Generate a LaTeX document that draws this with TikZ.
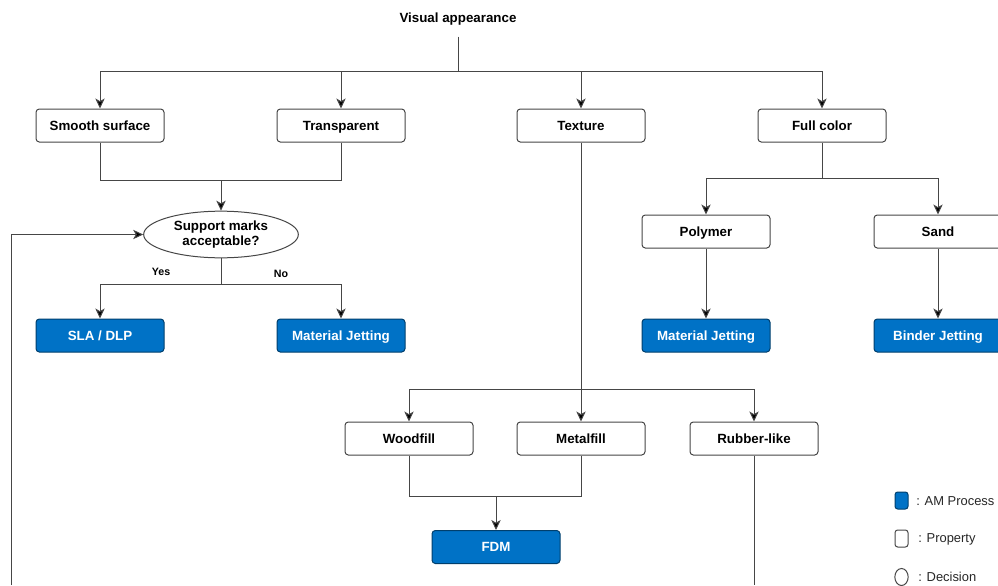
\documentclass[tikz,border=0pt]{standalone}
\usepackage{fontspec}
\setmainfont{Liberation Sans}
\usetikzlibrary{arrows.meta,shapes.geometric}
\definecolor{procblue}{RGB}{0,114,198}
\definecolor{edgegray}{RGB}{70,70,70}

\begin{document}
\begin{tikzpicture}[x=0.75pt,y=-0.75pt,
  prop/.style={draw=edgegray, line width=0.75pt, rounded corners=2.5pt, fill=white,
    minimum width=96pt, minimum height=24.75pt, inner sep=0pt,
    text height=8.2pt, text depth=1pt,
    font=\fontsize{10}{12}\selectfont\bfseries},
  proc/.style={prop, fill=procblue, draw=procblue!55!black, text=white},
  decision/.style={ellipse, draw=edgegray, line width=0.75pt, fill=white,
    minimum width=116pt, minimum height=35pt, inner sep=0pt, align=center,
    font=\fontsize{10}{11.5}\selectfont\bfseries},
  link/.style={draw=edgegray, line width=0.75pt},
  arr/.style={link, -{Stealth[length=7.5pt,width=7pt,inset=2pt,fill=black]}},
  answer/.style={font=\fontsize{8}{9}\selectfont\bfseries},
  legendtext/.style={anchor=west, inner sep=0pt, text=black!85,
    font=\fontsize{9.7}{11}\selectfont}
]
\useasboundingbox (0,0) rectangle (998,585);

% title
\node[font=\fontsize{10}{12}\selectfont\bfseries] (va) at (458,19) {Visual appearance};

% first level properties
\node[prop] (smooth)  at (100,125.5) {Smooth surface};
\node[prop] (transp)  at (341,125.5) {Transparent};
\node[prop] (texture) at (581,125.5) {Texture};
\node[prop] (full)    at (822,125.5) {Full color};

% decision
\node[decision] (support) at (221,234.5) {Support marks\\acceptable?};

% processes under the decision
\node[proc] (sla) at (100,335.5) {SLA / DLP};
\node[proc] (mj1) at (341,335.5) {Material Jetting};

% full colour branch
\node[prop] (poly) at (706,231.5) {Polymer};
\node[prop] (sand) at (938,231.5) {Sand};
\node[proc] (mj2)  at (706,335.5) {Material Jetting};
\node[proc] (bj)   at (938,335.5) {Binder Jetting};

% texture branch
\node[prop] (wood)   at (409,438.5) {Woodfill};
\node[prop] (metal)  at (581,438.5) {Metalfill};
\node[prop] (rubber) at (754,438.5) {Rubber-like};
\node[proc] (fdm)    at (496,547)   {FDM};

% junction points
\coordinate (split0) at (458,72);
\coordinate (m1) at (221,180);
\coordinate (yn) at (221,284);
\coordinate (m2) at (822,178);
\coordinate (t1) at (581,389);
\coordinate (m3) at (496,496);
\coordinate (loopb) at (11,585);
\coordinate (rb) at (754,585);

% title to first level
\draw[link, shorten <=5pt] (va.south) -- (split0);
\draw[arr] (split0) -| (smooth);
\draw[arr] (split0) -| (transp);
\draw[arr] (split0) -| (texture);
\draw[arr] (split0) -| (full);

% smooth / transparent into the decision
\draw[link] (smooth) |- (m1);
\draw[link] (transp) |- (m1);
\draw[arr] (m1) -- (support);
\draw[arr] (loopb) |- (support.west);

% decision outcomes
\draw[link] (support) -- (yn);
\draw[arr] (yn) -| (sla);
\draw[arr] (yn) -| (mj1);
\node[answer] (yes) at (161,272) {Yes};
\node[answer] (no)  at (281,274) {No};

% full colour
\draw[link] (full) -- (m2);
\draw[arr] (m2) -| (poly);
\draw[arr] (m2) -| (sand);
\draw[arr] (poly) -- (mj2);
\draw[arr] (sand) -- (bj);

% texture
\draw[arr] (texture) -- (metal);
\draw[arr] (t1) -| (wood);
\draw[arr] (t1) -| (rubber);
\draw[link] (wood) |- (m3);
\draw[link] (metal) |- (m3);
\draw[arr] (m3) -- (fdm);
\draw[link] (rubber) -- (rb);

% legend
\node[proc, minimum width=9.75pt, minimum height=12.75pt, rounded corners=2pt] (lgproc) at (901.5,500.5) {};
\node[legendtext] (lgproct) at (916,501) {: AM Process};
\node[prop, minimum width=9.75pt, minimum height=12.75pt, rounded corners=2pt] (lgprop) at (901.5,538.5) {};
\node[legendtext] (lgpropt) at (918,539) {: Property};
\node[ellipse, draw=edgegray, line width=0.75pt, minimum width=10pt, minimum height=12.75pt, inner sep=0pt] (lgdec) at (901.5,577) {};
\node[legendtext] (lgdect) at (918,577) {: Decision};
\end{tikzpicture}
\end{document}
